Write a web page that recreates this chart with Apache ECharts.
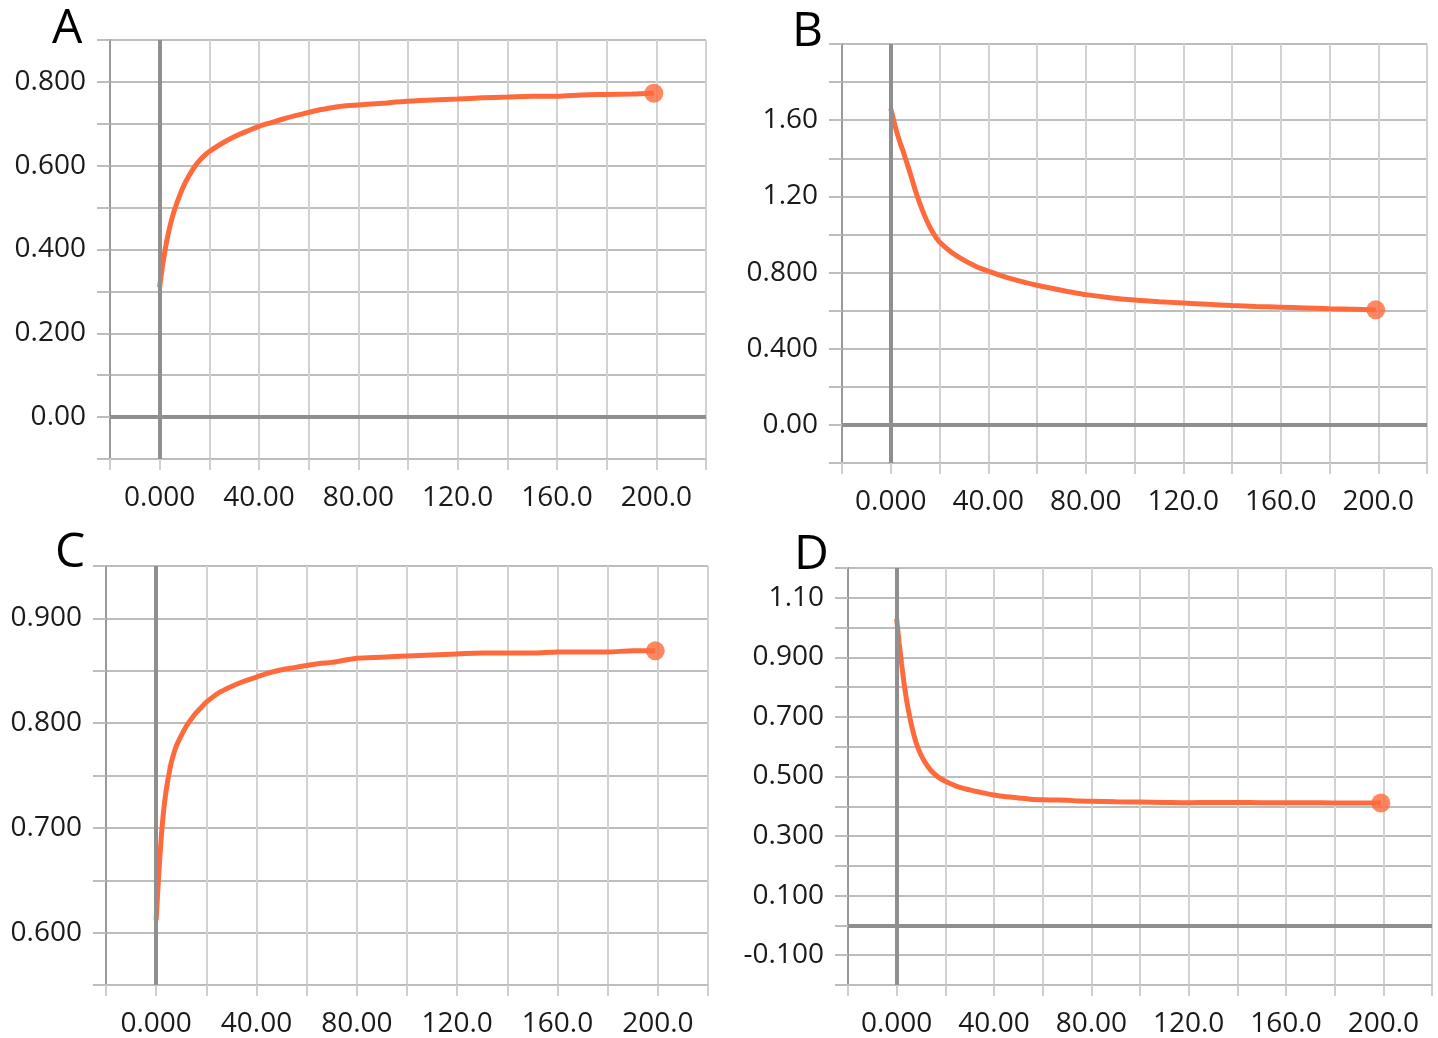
<!DOCTYPE html>
<html>
<head>
<meta charset="utf-8">
<script src="https://cdn.jsdelivr.net/npm/echarts@6/dist/echarts.min.js"></script>
<style>
html,body{margin:0;padding:0;background:#fff;}
#chart{width:1438px;height:1038px;}
</style>
</head>
<body>
<div id="chart"></div>
<script>
// ---- shared x axis (epochs) ----
var xTicks = [0, 40, 80, 120, 160, 200];
var xTickLabels = ['0.000', '40.00', '80.00', '120.0', '160.0', '200.0'];

// ---- Panel A ----
var xA = [0,1,2,3,4,5,6,8,10,12,14,16,18,20,25,30,35,40,45,50,55,60,65,70,75,80,85,90,95,100,110,120,130,140,150,160,170,180,190,199];
var yA = [0.31,0.355,0.392,0.425,0.452,0.475,0.495,0.528,0.556,0.578,0.597,0.612,0.624,0.634,0.653,0.669,0.682,0.694,0.703,0.712,0.720,0.727,0.734,0.739,0.743,0.745,0.747,0.749,0.752,0.754,0.757,0.759,0.762,0.764,0.766,0.766,0.769,0.770,0.771,0.773];
var yTicksA = [0, 0.2, 0.4, 0.6, 0.8];
var yTickLabelsA = ['0.00', '0.200', '0.400', '0.600', '0.800'];

// ---- Panel B ----
var xB = [0,1,2,3,4,5,6,8,10,12,14,16,18,20,25,30,35,40,45,50,55,60,65,70,75,80,90,100,110,120,130,140,150,160,170,180,190,199];
var yB = [1.66,1.61,1.56,1.515,1.475,1.44,1.40,1.32,1.235,1.16,1.095,1.04,0.995,0.96,0.905,0.865,0.832,0.808,0.785,0.765,0.748,0.733,0.720,0.707,0.695,0.684,0.668,0.656,0.647,0.640,0.633,0.627,0.622,0.618,0.614,0.610,0.607,0.604];
var yTicksB = [0, 0.4, 0.8, 1.2, 1.6];
var yTickLabelsB = ['0.00', '0.400', '0.800', '1.20', '1.60'];

// ---- Panel C ----
var xC = [0,1,2,3,4,5,6,8,10,12,14,16,18,20,25,30,35,40,45,50,55,60,65,70,75,80,90,100,110,120,130,140,150,160,170,180,190,199];
var yC = [0.612,0.655,0.690,0.717,0.736,0.750,0.762,0.778,0.788,0.797,0.804,0.810,0.815,0.820,0.829,0.835,0.840,0.844,0.848,0.851,0.853,0.855,0.857,0.858,0.860,0.862,0.863,0.864,0.865,0.866,0.867,0.867,0.867,0.868,0.868,0.868,0.869,0.869];
var yTicksC = [0.6, 0.7, 0.8, 0.9];
var yTickLabelsC = ['0.600', '0.700', '0.800', '0.900'];

// ---- Panel D ----
var xD = [0,1,2,3,4,5,6,8,10,12,14,16,18,20,25,30,35,40,45,50,55,60,65,70,75,80,90,100,110,120,130,140,150,160,170,180,190,199];
var yD = [1.03,0.95,0.88,0.815,0.76,0.715,0.675,0.613,0.572,0.543,0.521,0.505,0.493,0.484,0.466,0.455,0.446,0.438,0.432,0.428,0.424,0.422,0.421,0.420,0.418,0.417,0.415,0.414,0.413,0.412,0.413,0.413,0.412,0.412,0.412,0.411,0.411,0.411];
var yTicksD = [-0.1, 0.1, 0.3, 0.5, 0.7, 0.9, 1.1];
var yTickLabelsD = ['-0.100', '0.100', '0.300', '0.500', '0.700', '0.900', '1.10'];

var panelLetters = ['A', 'B', 'C', 'D'];

var LINE_COLOR = '#ff6a3d';
var FONT = '"Open Sans", "Noto Sans", sans-serif';

function lookup(ticks, labels) {
  return function (v) {
    for (var i = 0; i < ticks.length; i++) {
      if (Math.abs(ticks[i] - v) < 1e-6) return labels[i];
    }
    return '';
  };
}
function pairs(xs, ys) {
  return xs.map(function (x, i) { return [x, ys[i]]; });
}

var panels = [
  { xs: xA, ys: yA, yt: yTicksA, yl: yTickLabelsA, ymin: -0.1, ymax: 0.9, yint: 0.1,
    grid: { left: 110, top: 40, width: 596, height: 419 }, letter: { left: 52, top: 5 } },
  { xs: xB, ys: yB, yt: yTicksB, yl: yTickLabelsB, ymin: -0.2, ymax: 2.0, yint: 0.2,
    grid: { left: 842, top: 44, width: 585, height: 419 }, letter: { left: 792, top: 8 } },
  { xs: xC, ys: yC, yt: yTicksC, yl: yTickLabelsC, ymin: 0.55, ymax: 0.95, yint: 0.05,
    grid: { left: 106, top: 566, width: 602, height: 419 }, letter: { left: 55, top: 529 } },
  { xs: xD, ys: yD, yt: yTicksD, yl: yTickLabelsD, ymin: -0.2, ymax: 1.2, yint: 0.1,
    grid: { left: 848, top: 568, width: 584, height: 420 }, letter: { left: 794, top: 531 } }
];

var option = {
  backgroundColor: '#ffffff',
  animation: false,
  grid: [], xAxis: [], yAxis: [], series: [], graphic: []
};

panels.forEach(function (p, i) {
  option.grid.push({ left: p.grid.left, top: p.grid.top, width: p.grid.width, height: p.grid.height, containLabel: false });
  option.xAxis.push({
    type: 'value', gridIndex: i, min: -20, max: 220, interval: 20,
    axisLine: { show: true, onZero: false, lineStyle: { color: '#bdbdbd', width: 2 } },
    axisTick: { show: true, length: 11, lineStyle: { color: '#cfcfcf', width: 2 } },
    splitLine: { show: true, lineStyle: { color: '#d2d2d2', width: 2 } },
    axisLabel: { formatter: lookup(xTicks, xTickLabels), fontSize: 28, fontFamily: FONT, color: '#1a1a1a', margin: 25 }
  });
  option.yAxis.push({
    type: 'value', gridIndex: i, min: p.ymin, max: p.ymax, interval: p.yint,
    axisLine: { show: true, onZero: false, lineStyle: { color: '#999999', width: 2 } },
    axisTick: { show: true, length: 13, lineStyle: { color: '#bdbdbd', width: 2 } },
    splitLine: { show: true, lineStyle: { color: '#bdbdbd', width: 2 } },
    axisLabel: { formatter: lookup(p.yt, p.yl), fontSize: 28, fontFamily: FONT, color: '#1a1a1a', margin: 24 }
  });
  var markData = [{ xAxis: 0 }];
  if (p.ymin < 0) markData.push({ yAxis: 0 });
  option.series.push({
    type: 'line', xAxisIndex: i, yAxisIndex: i, data: [], z: 1, silent: true,
    markLine: { silent: true, symbol: ['none', 'none'], label: { show: false },
      lineStyle: { color: '#8f8f8f', width: 4, type: 'solid' }, data: markData }
  });
  option.series.push({
    type: 'line', xAxisIndex: i, yAxisIndex: i, data: pairs(p.xs, p.ys), z: 3,
    smooth: 0.3, showSymbol: false, symbol: 'none',
    lineStyle: { color: LINE_COLOR, width: 5 }
  });
  var last = p.xs.length - 1;
  option.series.push({
    type: 'scatter', xAxisIndex: i, yAxisIndex: i, data: [[p.xs[last], p.ys[last]]], z: 4,
    symbolSize: 19, itemStyle: { color: LINE_COLOR }
  });
  option.graphic.push({
    type: 'text', left: p.letter.left, top: p.letter.top,
    style: { text: panelLetters[i], font: '48px ' + FONT, fill: '#000' }
  });
});

var chart = echarts.init(document.getElementById('chart'), null, { renderer: 'canvas' });
chart.setOption(option);
</script>
</body>
</html>
